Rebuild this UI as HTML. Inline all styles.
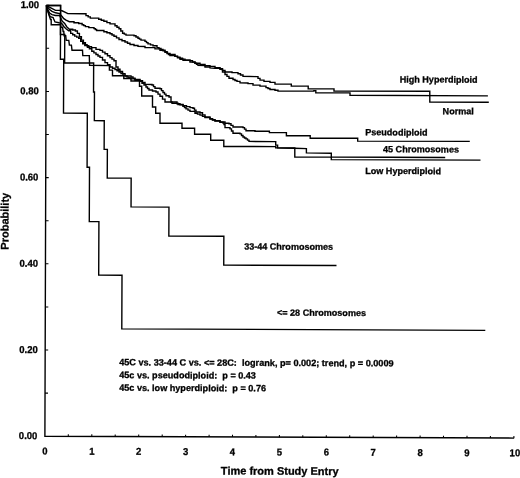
<!DOCTYPE html>
<html>
<head>
<meta charset="utf-8">
<title>Survival by ploidy</title>
<style>
html,body{margin:0;padding:0;background:#fff;}
body{width:520px;height:478px;overflow:hidden;}
svg{display:block;will-change:transform;}
text{font-family:"Liberation Sans",sans-serif;font-weight:bold;fill:#000;stroke:#000;stroke-width:0.3px;}
</style>
</head>
<body>
<svg width="520" height="478" viewBox="0 0 520 478">
<rect width="520" height="478" fill="#fff"/>
<g transform="rotate(0.23 44.9 436.2)">
<g fill="none" stroke="#000" stroke-width="1.4" stroke-linejoin="miter" stroke-linecap="butt">
<path d="M44.67,5.47H58.88V59.23H62.2V113.08H86.01V167.13H88.43V221.4H98.05V274.94H121.36V328.56H484.87"/>
<path d="M44.67,5.47H58.83V34.43H63.14V62.87H92.16V91.81H93.08V120.48H102.99V149.16H106.21V177.8H130.12V206.58H168.04V235.49H223.05V264.36H335.81"/>
<path d="M44.67,5.5L45.59,8.99L47.31,14.99L48.83,19.48L49.53,19.48L49.55,24.78L58.95,24.74L59.16,27.24L60.96,27.23L61.48,31.43L62.18,31.43L62.49,35.63L64.09,35.62L64.61,40.32L67.21,40.31L67.83,45L69.83,45L70.45,50.09L80.95,50.05L81.27,55.45L87.77,55.42L88.11,65.12L107.91,65.34L107.93,69.84L111.03,69.83L111.05,75.53L122.35,75.49L122.36,78.19L129.56,78.16L129.57,80.66L138.07,80.62L138.09,85.92L140.29,85.91L140.33,95.61L151.13,95.57L151.18,106.57L154.38,106.56L154.4,112.76L158.7,112.74L158.74,122.84L180.74,122.75L180.76,127.75L193.36,127.7L193.39,133.6L209.49,133.54L209.51,139.54L222.61,139.48L222.64,145.78L274.54,145.68L274.54,146.98L293.64,147L293.68,156L330.18,155.95L330.19,158.45L479.39,158.35"/>
<path d="M44.67,5.5L46.29,9.99L47.9,13.08L50.31,14.57L53.81,15.46L57.91,15.34L59.73,19.44L60.63,21.13L63.04,23.32L65.06,26.62L67.77,29.1H71.07V29.89H73.77V30.88H75.78V33.27H77.8V36.56H79.81V39.96H81.82V42.65H83.83V44.64H85.53V45.63H87.24V46.63H89.94V47.42H94.45V49.2H98.45V50.18H100.96V51.87H103.46V53.56H105.97V55.45H108.48V57.34H110.49V58.88H112.49V60.43H114.52V66.72H116.53V68.91H118.53V71.1H121.04V73.29H123.55V75.48H129.56V76.66H131.56V77.9H133.57V79.14H138.57V80.22H141.08V82.11H143.59V84H150.59V84.57H152.1V86.17H153.6V87.76H158.6V88.34H160.11V90.18H161.62V92.03H163.13V93.62H164.63V95.22H167.64V96.5H169.66V101.5H175.66V103.27H178.67V104.21H181.67V105.15H185.18V106.08H188.68V107.02H191.68V107.61H193.19V109.5H194.7V111.4H198.7V112.18H201.21V114.27H203.72V116.36H208.72V118.14H211.23V119.08H213.73V120.02H218.74V121.3H223.74V122.48H227.74V123.06H229.75V124.66H231.76V126.25H241.76V126.81H243.27V128.35H244.77V129.9H253.77V130.46L268.17,130.4L268.18,131.7L285.18,131.63L285.19,134.73L308.99,134.74L309,137.14L356.5,137.05L356.51,139.85L468.61,139.7"/>
<path d="M44.67,5.5L45.79,9.99L47.11,13.99L48.52,16.58L51.42,17.47L52.03,18.97L53.34,21.96L57.34,22.75L59.54,22.94L60.65,24.23L62.36,26.63L64.36,28.62L67.07,30.61H69.08V33.3H71.09V34.59H73.09V35.98H75.1V36.98H77.1V38.17H79.11V41.26H81.12V43.65H83.23V45.44H85.84V47.03H87.84V48.62H90.25V51.01H92.36V52.66H94.47V54.3H96.47V55.74H98.48V57.18H100.99V59.77H103.5V62.36H106.01V64.55H108.52V66.74H111.02V67.98H113.53V69.22H115.53V70.46H117.54V71.71H119.54V73.25H121.55V74.79H123.55V75.73H125.56V76.67H127.56V77.62H129.57V78.56H133.57V79.84H138.57V80.92H140.58V82.81H142.59V84.71H144.6V86.6H146.1V88.09H147.61V89.58H151.11V90.57H154.62V91.56H156.63V93.7H158.63V95.84H161.15V98.68H163.66V101.52H170.66V102.69H176.67V103.97H181.67V105.75H183.18V107.04H184.69V108.34H186.69V109.58H188.7V110.82H193.7V112.6H196.21V113.54H198.71V114.48H201.21V115.72H203.72V116.96H208.73V118.34H211.23V119.33H213.73V120.32H218.74V121.6H221.74V122.29H222.75V123.78H223.76V126.88H228.76V128.16H230.27V130.3H231.78V132.45H238.78V133.12H240.29V134.66H241.8V136.21H243.3V137.15H244.8V138.1H246.31V139.34H247.81V140.58L272.62,140.68H274.53V144.18H276.44V146.97L293.34,147.2L305.24,147.55L305.26,151.85L330.16,152.05L330.18,155.85L444.08,155.9"/>
<path d="M44.67,5.5L49.08,7.88L53.79,10.36L58.29,10.34L60.29,10.73L63.7,12.22L66.1,13.51L81.8,13.55H84.31V15.44H86.47V16.68H88.62V17.92H97.03V18.99H99.63V20.03H102.23V21.07H105.29V22.35H108.34V23.64H113.35V25.42H115.36V26.96H117.36V28.51H119.17V30.7H120.98V32.89H122.69V33.83H124.39V34.78H132.39V35.35H134.4V36.59H136.4V37.83H137.91V38.77H139.41V39.72H143.41V41H144.92V42.25H146.42V43.49H148.93V44.43H151.43V45.37H155.44V47.15H157.44V48.1H159.45V49.04H161.45V50.43H163.46V51.82H165.96V52.91H168.47V54H173.47V55.78H175.98V56.72H178.48V57.66H180.99V58.6H183.49V59.54H188.49V60.12H191V61.36H193.5V62.6H198.51V63.88H203.51V65.16H208.51V65.74H213.52V66.92H218.52V68.1H221.03V69.69H223.54V71.28H230.54V71.85H236.54V73.03H239.05V74.27H241.55V75.51L254.55,75.76H256.56V77.5H258.57V79.24H262.57V80.52H268.58V81.5H273.58V83.18L289.88,83.11L289.89,85.11L304.29,85.06H306.8V87.85L330.6,87.75H332.61V89.94L428.41,89.66L428.46,100.46L487.46,100.42"/>
<path d="M44.67,5.5L47.89,9.58L50.29,11.37L53.8,12.76L57.9,13.54L60.62,16.73L61.82,18.33L64.33,20.02L67.74,21.6H72.34V22.59H77.04V23.37H80.45V24.55H82.1V25.5H83.76V26.44H87.16V27.43H92.36V28.41H93.67V29.35H94.97V30.3H102.28V31.47H105.33V32.5H108.38V33.54H110.39V34.78H112.39V36.03H114.9V37.62H117.41V39.21H120.41V40.44H123.42V41.68H125.92V42.92H128.43V44.16H132.43V45.1H136.43V46.03H143.44V47.2H153.44V48.46H158.45V49.74H163.46V51.12H165.46V53.11H166.97V54.06H168.47V55H173.47V55.88H175.98V57.32H178.49V58.76H181.49V59.75L185.49,59.73H188.5V61.52H193.5V62.6H195.01V63.69H196.51V64.79H203.52V66.36H208.52V67.24L213.52,67.52H218.53V68.7H221.04V71.24H223.55V73.78H225.55V75.62H227.56V77.46H231.57V78.75H233.57V79.69H235.57V80.63H238.58V82.12H246.58V82.79H251.59V84.27H258.59V85.24H264.6V86.72H266.6V87.66H268.61V88.6H273.61V89.28H276.61V90.07H312.51V89.52H314.42V91.82L346.12,91.69H348.63V93.98L486.53,94.12"/>
</g>
<g fill="none" stroke="#000">
<path d="M44.55,5.1 L44.9,436.2 H514.2" stroke-width="1.4" stroke-linejoin="miter"/>
<path d="M68.3,436.2v-2.1 M91.8,436.2v-2.1 M115.2,436.2v-2.1 M138.7,436.2v-2.1 M162.2,436.2v-2.1 M185.6,436.2v-2.1 M209.1,436.2v-2.1 M232.5,436.2v-2.1 M255.9,436.2v-2.1 M279.4,436.2v-2.1 M302.8,436.2v-2.1 M326.3,436.2v-2.1 M349.7,436.2v-2.1 M373.2,436.2v-2.1 M396.6,436.2v-2.1 M420.1,436.2v-2.1 M443.5,436.2v-2.1 M467.0,436.2v-2.1 M490.4,436.2v-2.1 M513.9,436.2v-2.1 M44.86,393.1h3 M44.83,350.0h3 M44.79,306.9h3 M44.76,263.8h3 M44.72,220.7h3 M44.69,177.6h3 M44.65,134.5h3 M44.62,91.4h3 M44.58,48.3h3 M44.55,5.2h3" stroke-width="1.05"/>
</g>
<g>
<text transform="translate(37.43,8.18) scale(0.95,1)" font-size="10" text-anchor="end">1.00</text>
<text transform="translate(37.38,94.38) scale(0.95,1)" font-size="10" text-anchor="end">0.80</text>
<text transform="translate(37.37,180.58) scale(0.95,1)" font-size="10" text-anchor="end">0.60</text>
<text transform="translate(37.37,266.78) scale(0.95,1)" font-size="10" text-anchor="end">0.40</text>
<text transform="translate(37.37,352.98) scale(0.95,1)" font-size="10" text-anchor="end">0.20</text>
<text transform="translate(37.36,439.18) scale(0.95,1)" font-size="10" text-anchor="end">0.00</text>
<text transform="translate(44.97,454.45) scale(0.95,1)" font-size="10" text-anchor="middle">0</text>
<text transform="translate(91.87,454.45) scale(0.95,1)" font-size="10" text-anchor="middle">1</text>
<text transform="translate(138.77,454.45) scale(0.95,1)" font-size="10" text-anchor="middle">2</text>
<text transform="translate(185.67,454.45) scale(0.95,1)" font-size="10" text-anchor="middle">3</text>
<text transform="translate(232.57,454.45) scale(0.95,1)" font-size="10" text-anchor="middle">4</text>
<text transform="translate(279.48,454.45) scale(0.95,1)" font-size="10" text-anchor="middle">5</text>
<text transform="translate(326.38,454.45) scale(0.95,1)" font-size="10" text-anchor="middle">6</text>
<text transform="translate(373.28,454.45) scale(0.95,1)" font-size="10" text-anchor="middle">7</text>
<text transform="translate(420.18,454.45) scale(0.95,1)" font-size="10" text-anchor="middle">8</text>
<text transform="translate(467.08,454.45) scale(0.95,1)" font-size="10" text-anchor="middle">9</text>
<text transform="translate(514.98,454.45) scale(0.95,1)" font-size="10" text-anchor="middle">10</text>
<text x="279.9" y="473.8" font-size="11" text-anchor="middle">Time from Study Entry</text>
<text font-size="11" text-anchor="middle" transform="translate(7.7,221.4) rotate(-90)">Probability</text>
<text x="398.3" y="81.0" font-size="9.05" text-anchor="start">High Hyperdiploid</text>
<text x="441.3" y="112.6" font-size="9.05" text-anchor="start">Normal</text>
<text x="364.0" y="134.0" font-size="9.05" text-anchor="start">Pseudodiploid</text>
<text x="381.9" y="150.8" font-size="9.05" text-anchor="start">45 Chromosomes</text>
<text x="364.2" y="172.6" font-size="9.05" text-anchor="start">Low Hyperdiploid</text>
<text x="243.4" y="248.7" font-size="9.05" text-anchor="start">33-44 Chromosomes</text>
<text x="276.5" y="314.7" font-size="9.05" text-anchor="start">&lt;= 28 Chromosomes</text>
<text x="118.9" y="365.0" font-size="9.13" text-anchor="start" xml:space="preserve">45C vs. 33-44 C vs. &lt;= 28C:  logrank, p= 0.002; trend, p = 0.0009</text>
<text x="119.0" y="377.8" font-size="9.1" text-anchor="start" xml:space="preserve">45c vs. pseudodiploid:  p = 0.43</text>
<text x="119.0" y="390.5" font-size="9.1" text-anchor="start" xml:space="preserve">45c vs. low hyperdiploid:  p = 0.76</text>
</g>
</g>
</svg>
</body>
</html>
